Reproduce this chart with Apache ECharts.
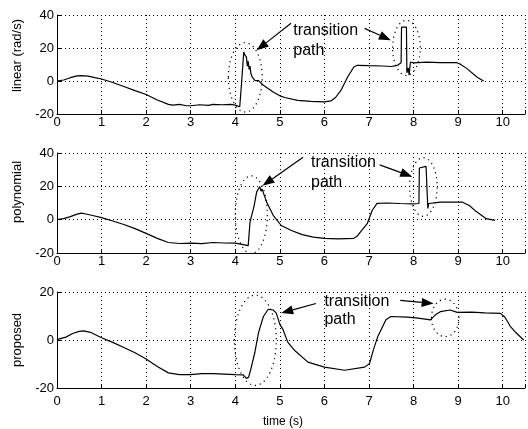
<!DOCTYPE html>
<html><head><meta charset="utf-8">
<script src="https://cdn.jsdelivr.net/npm/echarts/dist/echarts.min.js"></script>
<style>html,body{margin:0;padding:0;background:#fff}#c{width:528px;height:429px}</style>
</head><body><div id="c"></div>
<script>
// ---- data (time in s, values in rad/s) ----
const linearT = [0,0.15,0.3,0.45,0.55,0.7,0.85,1.0,1.25,1.5,1.75,2.0,2.25,2.5,2.6,2.75,2.9,3.0,3.2,3.4,3.5,3.7,3.9,4.0,4.1,4.13,4.14,4.19,4.21,4.25,4.27,4.29,4.31,4.33,4.35,4.38,4.44,4.52,4.63,4.85,5.0,5.11,5.4,5.7,6.0,6.15,6.25,6.37,6.52,6.66,6.74,7.0,7.3,7.5,7.64,7.68,7.72,7.73,7.84,7.85,7.88,7.9,7.93,8.0,8.3,8.6,8.97,9.05,9.2,9.42,9.57];
const linearV = [0,0.6,2.0,3.1,3.3,3.0,2.0,1.2,-0.9,-3.3,-5.8,-8.2,-11.5,-14.2,-14.6,-14.2,-15.0,-15.0,-14.4,-14.8,-14.2,-14.4,-14.2,-14.6,-15.6,-15.8,-1.6,17.6,16.0,14.5,9.0,12.0,7.0,9.0,4.5,2.4,0.4,0.2,-2.6,-6.7,-9.0,-10.0,-11.7,-12.4,-12.7,-12.0,-10.0,-5.7,2.4,8.5,9.5,9.3,9.1,8.8,9.5,10.5,11.0,32.7,32.7,5.0,8.0,3.5,11.5,11.0,11.4,11.1,11.1,10.2,7.5,2.4,0];

const polyT = [0,0.15,0.3,0.45,0.55,0.65,0.8,1.0,1.25,1.5,1.75,2.0,2.25,2.5,2.75,3.0,3.25,3.5,3.75,4.0,4.15,4.29,4.32,4.33,4.42,4.48,4.55,4.58,4.6,4.7,4.85,5.03,5.26,5.5,5.75,6.0,6.3,6.66,6.73,6.85,6.96,7.07,7.18,7.4,7.7,7.96,8.12,8.13,8.15,8.28,8.31,8.32,8.34,8.37,8.6,9.1,9.25,9.4,9.63,9.83];
const polyV = [0,0.6,1.8,3.3,3.9,3.4,2.5,1.2,-0.8,-2.9,-5.4,-8.2,-11.2,-13.7,-14.3,-14.1,-14.4,-13.7,-14.0,-14.1,-14.8,-15.6,-16.5,-1.5,8.0,16.7,19.8,17.0,18.5,10.7,2.6,-3.5,-6.5,-9.0,-10.5,-11.2,-11.5,-11.2,-10.0,-6.0,-2.4,5.5,9.8,10.0,9.7,9.5,9.7,31.0,32.0,32.0,31.0,6.7,9.7,10.5,10.5,10.5,8.5,5.0,0.6,-0.4];

const propT = [0,0.05,0.2,0.35,0.5,0.6,0.75,1.0,1.25,1.5,1.75,2.0,2.25,2.5,2.75,3.0,3.25,3.5,3.75,4.0,4.18,4.25,4.3,4.35,4.44,4.52,4.63,4.74,4.85,4.92,5.0,5.07,5.18,5.34,5.63,6.0,6.45,6.9,7.01,7.1,7.2,7.38,7.49,7.86,8.1,8.38,8.49,8.6,8.82,8.98,9.3,9.6,9.95,10.05,10.17,10.3,10.47];
const propV = [0,0.5,1.2,2.7,3.6,3.8,3.2,0.95,-1.0,-3.1,-5.3,-7.9,-11.0,-13.7,-14.4,-14.4,-14.0,-14.0,-14.2,-14.4,-14.5,-16.0,-15.5,-12.0,-5.1,3.0,9.8,12.8,12.5,11.2,6.5,4.4,-1.0,-4.5,-9.2,-11.3,-12.6,-11.3,-9.9,-4.0,1.6,8.4,9.8,9.5,9.1,8.4,10.5,11.8,12.5,11.5,11.6,11.3,11.1,9.5,5.7,3.0,0];

const xTicks = [0,1,2,3,4,5,6,7,8,9,10];
const yLabels = ['linear (rad/s)', 'polynomial', 'proposed'];
const xLabel = 'time (s)';

// annotations in data coordinates: [grid, t, v, radiusT, radiusV]
const ellipses = [[0,4.225,2.2,0.38,21],[0,7.84,20.1,0.31,16.7],[1,4.36,3.0,0.36,23.3],[1,8.22,19.6,0.31,17.6],[2,4.45,-0.1,0.47,18.8],[2,8.71,9.2,0.31,7.8]];
// [grid, tailT, tailV, tipT, tipV]
const arrows = [[0,5.25,35,4.48,18.6],[0,6.9,31.9,7.49,24.7],[1,5.52,37.4,4.61,20.3],[1,7.24,32.9,7.97,25.8],[2,5.81,15.2,5.03,11.2],[2,7.7,16.5,8.45,15.2]];
// [grid, t, v, text]
const notes = [[0,5.3,30.7,'transition'],[0,5.3,18.6,'path'],[1,5.7,34.1,'transition'],[1,5.7,22,'path'],[2,6.0,15.8,'transition'],[2,6.0,8.5,'path']];

const FONT = 'Liberation Sans, Arial, Helvetica, sans-serif';
const chart = echarts.init(document.getElementById('c'), null, {renderer:'canvas'});

const grids = [
  {left:57, top:15, width:471, height:99},
  {left:57, top:153, width:471, height:100},
  {left:57, top:292, width:471, height:98}
];
const yRanges = [[-20,40],[-20,40],[-20,20]];
const labelMargins = [2,2,7];
const nameGaps = [32,29,29];
const namePads = [[0,0,0,18],[0,0,0,22],[0,0,0,0]];

const dotted = {show:true, lineStyle:{color:'#000', type:[1,3], width:1}};
const xAxes = grids.map((g,i)=>({
  type:'value', gridIndex:i, min:0, max:10.5, interval:1,
  axisLine:{show:true, onZero:false, lineStyle:{color:'#000', width:1}},
  axisTick:{show:true, inside:true, length:4, lineStyle:{color:'#000'}},
  axisLabel:{color:'#000', fontFamily:FONT, fontSize:13, margin:labelMargins[i],
    formatter:v=> xTicks.indexOf(v)>=0 ? String(v) : ''},
  splitLine:dotted,
  name: i===2 ? xLabel : '', nameLocation:'middle', nameGap:28,
  nameTextStyle:{color:'#000', fontFamily:FONT, fontSize:12, padding:[0,16,0,0]}
}));
const yAxes = grids.map((g,i)=>({
  type:'value', gridIndex:i, min:yRanges[i][0], max:yRanges[i][1], interval:20,
  axisLine:{show:true, onZero:false, lineStyle:{color:'#000', width:1}},
  axisTick:{show:true, inside:true, length:4, lineStyle:{color:'#000'}},
  axisLabel:{color:'#000', fontFamily:FONT, fontSize:13, margin:3},
  splitLine:dotted,
  name:yLabels[i], nameLocation:'middle', nameGap:nameGaps[i],
  nameTextStyle:{color:'#000', fontFamily:FONT, fontSize:13, padding:namePads[i]}
}));
const zip = (t,v)=>t.map((x,k)=>[x,v[k]]);
const series = [[linearT,linearV],[polyT,polyV],[propT,propV]].map((d,i)=>({
  type:'line', xAxisIndex:i, yAxisIndex:i, data:zip(d[0],d[1]),
  showSymbol:false, symbol:'none', animation:false,
  lineStyle:{color:'#000', width:1.2}
}));

chart.setOption({
  animation:false, backgroundColor:'#fff',
  grid:grids, xAxis:xAxes, yAxis:yAxes, series:series
});

function px(g,t,v){ return chart.convertToPixel({gridIndex:g},[t,v]); }
const gr = [];
ellipses.forEach(e=>{
  const c = px(e[0],e[1],e[2]);
  const a = px(e[0],e[1]+e[3],e[2]+e[4]);
  gr.push({type:'ellipse', silent:true, shape:{cx:c[0], cy:c[1], rx:Math.abs(a[0]-c[0]), ry:Math.abs(a[1]-c[1])},
    style:{fill:null, stroke:'#000', lineWidth:1.2, lineDash:[1.2,3.8]}, z:10});
});
arrows.forEach(a=>{
  const p1 = px(a[0],a[1],a[2]), p2 = px(a[0],a[3],a[4]);
  const dx=p2[0]-p1[0], dy=p2[1]-p1[1], L=Math.hypot(dx,dy), ux=dx/L, uy=dy/L;
  const hl=12, hw=4.5;
  const bx=p2[0]-ux*hl, by=p2[1]-uy*hl;
  gr.push({type:'line', silent:true, shape:{x1:p1[0],y1:p1[1],x2:bx,y2:by}, style:{stroke:'#000', lineWidth:1.2}, z:11});
  gr.push({type:'polygon', silent:true, shape:{points:[[p2[0],p2[1]],[bx-uy*hw,by+ux*hw],[bx+uy*hw,by-ux*hw]]}, style:{fill:'#000'}, z:11});
});
notes.forEach(n=>{
  const p = px(n[0],n[1],n[2]);
  gr.push({type:'text', silent:true, x:p[0], y:p[1], style:{text:n[3], fill:'#000', font:'16px '+FONT, textAlign:'left', textVerticalAlign:'middle'}, z:12});
});
chart.setOption({graphic:gr});
</script>
</body></html>
